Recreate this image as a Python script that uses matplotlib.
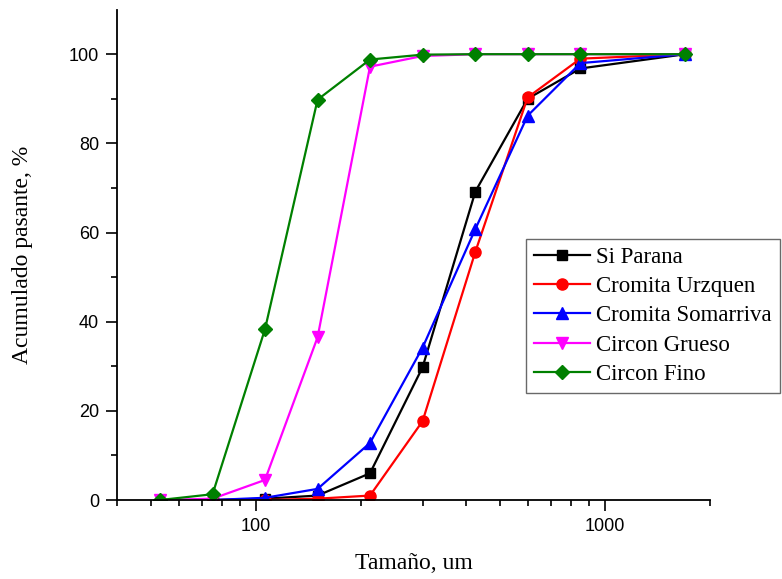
import numpy as np
import matplotlib
matplotlib.use("Agg")
import matplotlib.pyplot as plt
from matplotlib.ticker import LogLocator, NullFormatter, FixedLocator, FixedFormatter

plt.rcParams['font.family'] = ['Liberation Sans', 'DejaVu Sans']

sizes = [53, 75, 106, 150, 212, 300, 425, 600, 850, 1700]
sizes_c = [75, 106, 150, 212, 300, 425, 600, 850, 1700]

si_parana = [0.0, 0.3, 1.0, 6.0, 29.8, 69.2, 90.0, 96.8, 100.0]
cromita_urz = [0.0, 0.0, 0.3, 1.0, 17.7, 55.7, 90.3, 99.0, 100.0]
cromita_som = [0.0, 0.5, 2.5, 12.8, 34.2, 60.8, 86.2, 98.0, 100.0]
circon_grueso = [0.0, 0.3, 4.5, 36.5, 97.2, 99.6, 100.0, 100.0, 100.0, 100.0]
circon_fino = [0.0, 1.3, 38.3, 89.8, 98.8, 99.9, 100.0, 100.0, 100.0, 100.0]

fig = plt.figure(figsize=(7.82, 5.79), dpi=100)
ax = fig.add_axes([0.150, 0.1364, 0.758, 0.847])

ax.plot(sizes_c, si_parana, color='black', marker='s', label='Si Parana', lw=1.6, ms=7)
ax.plot(sizes_c, cromita_urz, color='red', marker='o', label='Cromita Urzquen', lw=1.6, ms=8)
ax.plot(sizes_c, cromita_som, color='blue', marker='^', label='Cromita Somarriva', lw=1.6, ms=8.5)
ax.plot(sizes, circon_grueso, color='magenta', marker='v', label='Circon Grueso', lw=1.6, ms=8.5)
ax.plot(sizes, circon_fino, color='green', marker='D', label='Circon Fino', lw=1.6, ms=7)

ax.set_xscale('log')
ax.set_xlim(40, 2000)
ax.set_ylim(0, 110)
ax.xaxis.set_major_locator(FixedLocator([100, 1000]))
ax.xaxis.set_major_formatter(FixedFormatter(['100', '1000']))
ax.xaxis.set_minor_locator(LogLocator(base=10, subs=np.arange(2, 10)))
ax.xaxis.set_minor_formatter(NullFormatter())
ax.yaxis.set_major_locator(FixedLocator([0, 20, 40, 60, 80, 100]))
ax.yaxis.set_minor_locator(FixedLocator([10, 30, 50, 70, 90]))

for s in ['top', 'right']:
    ax.spines[s].set_visible(False)
for s in ['left', 'bottom']:
    ax.spines[s].set_linewidth(1.3)

ax.tick_params(which='major', direction='out', length=8, width=1.2, labelsize=13, pad=5)
ax.tick_params(which='minor', direction='out', length=4.5, width=1.2)

serif = ['Liberation Serif', 'DejaVu Serif']
ax.set_xlabel('Tamaño, um', family=serif, fontsize=17, va='center')
ax.xaxis.set_label_coords(0.5, -0.13)
ax.set_ylabel('Acumulado pasante, %', family=serif, fontsize=17, va='center')
ax.yaxis.set_label_coords(-0.16, 0.5)

leg = ax.legend(loc='upper left', bbox_to_anchor=(0.690, 0.533), prop={'family': serif, 'size': 16.5},
                frameon=True, fancybox=False, edgecolor='#444444', borderpad=0.35,
                handlelength=2.45, handletextpad=0.25, labelspacing=0.36, borderaxespad=0)
leg.get_frame().set_linewidth(1.0)

fig.savefig('out.png', dpi=100)
